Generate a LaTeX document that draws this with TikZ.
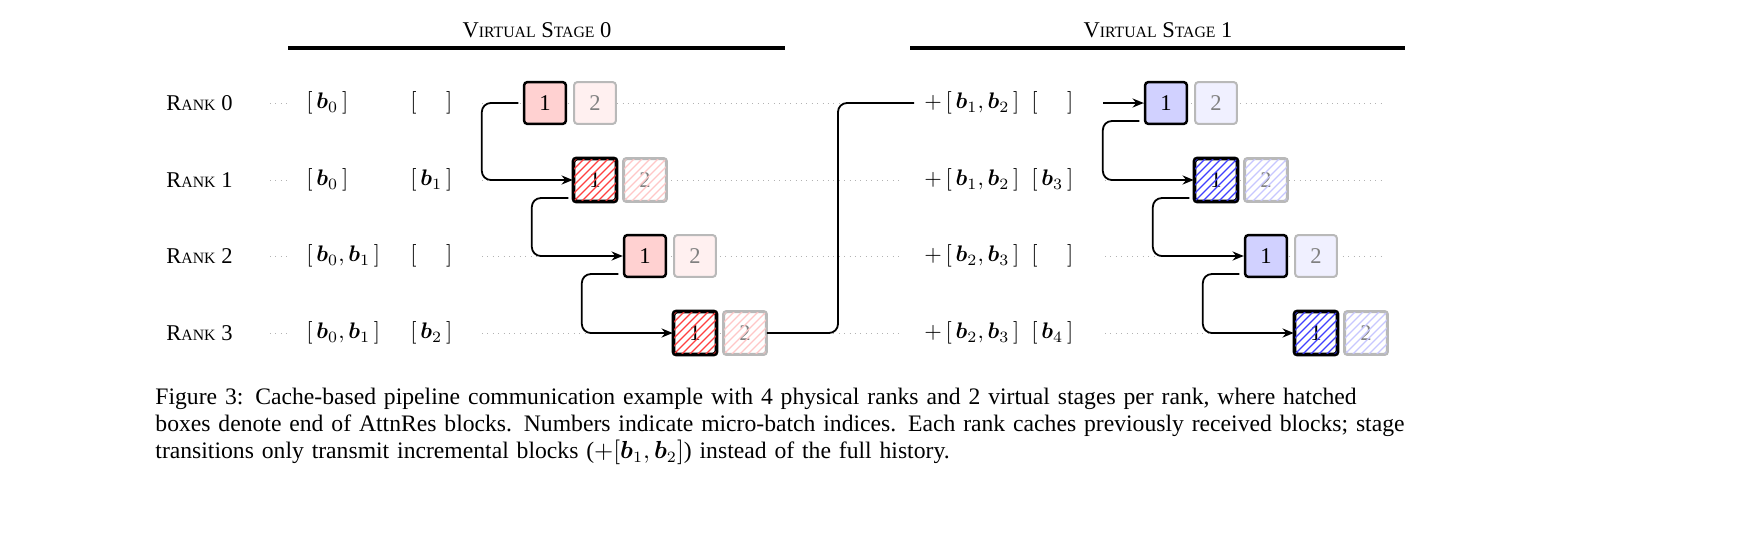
\documentclass[tikz,border=0pt]{standalone}
\usepackage{amsmath,bm}
\usepackage{fontspec}
\setmainfont{Liberation Serif}
\usetikzlibrary{arrows.meta}
\newcommand{\fsc}[2]{#1{\scriptsize #2}}
\newcommand{\hatchbox}[2]{%
  \begin{scope}
    \clip[rounded corners=1.5pt] (#1.south west) rectangle (#1.north east);
    \foreach \k in {-48,-40,...,48}{
      \draw[#2,line width=0.5pt] ([xshift=\k*0.444pt]#1.south west) -- ++(60*0.444pt,60*0.444pt);
    }
  \end{scope}}
\begin{document}
\begin{tikzpicture}[x=0.444pt,y=-0.444pt,
  box/.style={draw,line width=1.1pt,rounded corners=1.5pt,minimum size=18.6pt,inner sep=0pt},
  fbox/.style={draw=gray!55,line width=0.9pt,rounded corners=1.5pt,minimum size=18.6pt,inner sep=0pt,text=gray},
  dotl/.style={dotted,gray!60,line width=0.4pt},
  conn/.style={line width=0.8pt,rounded corners=4pt},
  arr/.style={conn,-{Stealth[length=5pt,width=4pt]}},
  lbl/.style={anchor=west,inner sep=0pt}]
\fill[white] (0,0) rectangle (1746,543);
\useasboundingbox (0,0) rectangle (1746,543);
% headers
\node (h0) at (537,30) {\fsc{V}{IRTUAL} \fsc{S}{TAGE} 0};
\node (h1) at (1158,30) {\fsc{V}{IRTUAL} \fsc{S}{TAGE} 1};
\draw[line width=1.6pt] (288,48) -- (785,48);
\draw[line width=1.6pt] (910,48) -- (1405,48);
% rows
\foreach \r/\y in {0/103,1/180,2/256,3/333}{
  \node[lbl] (rk\r) at (166,\y) {\fsc{R}{ANK} \r};
  \draw[dotl] (270,\y) -- (290,\y);
  \draw[dotl] (482,\y) -- (900,\y);
  \draw[dotl] (1105,\y) -- (1385,\y);
}
% cache texts stage 0
\node[lbl] (c00) at (306,103) {$[\,\bm{b}_0\,]$};
\node[lbl] (c01) at (306,180) {$[\,\bm{b}_0\,]$};
\node[lbl] (c02) at (306,256) {$[\,\bm{b}_0,\bm{b}_1\,]$};
\node[lbl] (c03) at (306,333) {$[\,\bm{b}_0,\bm{b}_1\,]$};
\node[lbl] (n00) at (410,103) {$[\phantom{\,\bm{b}_1\,}]$};
\node[lbl] (n01) at (410,180) {$[\,\bm{b}_1\,]$};
\node[lbl] (n02) at (410,256) {$[\phantom{\,\bm{b}_1\,}]$};
\node[lbl] (n03) at (410,333) {$[\,\bm{b}_2\,]$};
% stage 1 texts
\node[lbl,fill=white] (c10) at (924,103) {$+\,[\,\bm{b}_1,\bm{b}_2\,]$};
\node[lbl,fill=white] (c11) at (924,180) {$+\,[\,\bm{b}_1,\bm{b}_2\,]$};
\node[lbl,fill=white] (c12) at (924,256) {$+\,[\,\bm{b}_2,\bm{b}_3\,]$};
\node[lbl,fill=white] (c13) at (924,333) {$+\,[\,\bm{b}_2,\bm{b}_3\,]$};
\node[lbl,fill=white] (n10) at (1031,103) {$[\phantom{\,\bm{b}_1\,}]$};
\node[lbl,fill=white] (n11) at (1031,180) {$[\,\bm{b}_3\,]$};
\node[lbl,fill=white] (n12) at (1031,256) {$[\phantom{\,\bm{b}_1\,}]$};
\node[lbl,fill=white] (n13) at (1031,333) {$[\,\bm{b}_4\,]$};
% boxes stage 0 (red) and stage 1 (blue)
\foreach \s/\x/\c in {0/545/red,1/1166/blue}{
  \foreach \r/\y in {0/103,2/256}{
    \node[box,fill=\c!18] (b\s\r a) at ({\x+50*\r},\y) {1};
    \node[fbox,fill=\c!6] (b\s\r b) at ({\x+50*\r+50},\y) {2};
  }
  \foreach \r/\y in {1/180,3/333}{
    \node[box,fill=white] (b\s\r a) at ({\x+50*\r},\y) {1};
    \hatchbox{b\s\r a}{\c!75}
    \draw[line width=1.1pt,rounded corners=1.5pt] (b\s\r a.south west) rectangle (b\s\r a.north east);
    \node[fbox,fill=white] (b\s\r b) at ({\x+50*\r+50},\y) {2};
    \hatchbox{b\s\r b}{\c!22}
    \draw[draw=gray!55,line width=0.9pt,rounded corners=1.5pt] (b\s\r b.south west) rectangle (b\s\r b.north east);
  }
}
% connectors
\draw[arr] ([xshift=-2pt]b00a.west) -- ([xshift=-41*0.444pt]b00a.west) |- (b01a.west);
\foreach \s in {0,1}{
  \draw[arr] ([xshift=-2pt,yshift=-8pt]b\s1a.west) -- ([xshift=-41*0.444pt,yshift=-8pt]b\s1a.west) |- (b\s2a.west);
  \draw[arr] ([xshift=-2pt,yshift=-8pt]b\s2a.west) -- ([xshift=-41*0.444pt,yshift=-8pt]b\s2a.west) |- (b\s3a.west);
}
\draw[arr] ([xshift=-2pt,yshift=-8pt]b10a.west) -- ([xshift=-41*0.444pt,yshift=-8pt]b10a.west) |- (b11a.west);
% stage transition
\coordinate (tEnd) at (914,103);
\draw[conn] (b03b.east) -| (838,103) -- (tEnd);
\coordinate (tIn) at (1103,103);
\draw[arr] (tIn) -- (b10a.west);
% caption
\node[anchor=north west,inner sep=0pt,text width=561pt,align=left,font=\fontsize{10.5}{12}\selectfont] (cap) at (155,388)
{Figure 3: Cache-based pipeline communication example with 4 physical ranks and 2 virtual stages per rank, where hatched boxes denote end of AttnRes blocks. Numbers indicate micro-batch indices. Each rank caches previously received blocks; stage transitions only transmit incremental blocks ($+[\bm{b}_1,\bm{b}_2]$) instead of the full history.};
\end{tikzpicture}
\end{document}
